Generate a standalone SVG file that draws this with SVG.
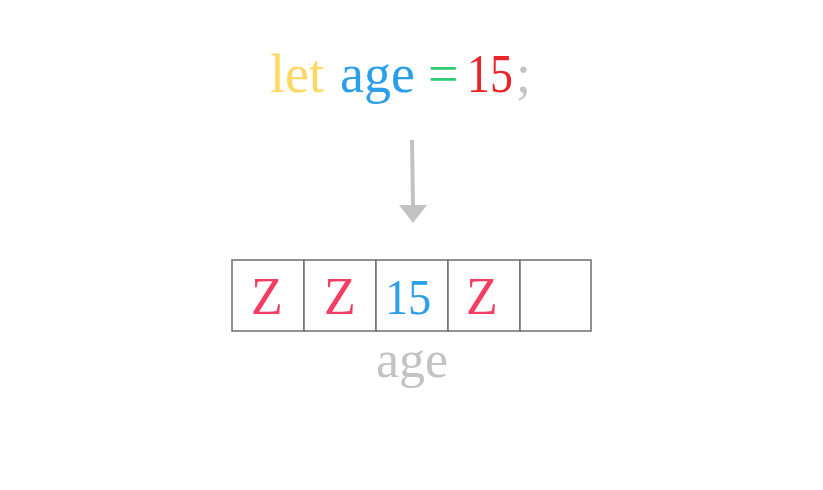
<svg xmlns="http://www.w3.org/2000/svg" width="823" height="490" viewBox="0 0 823 490">
<style>
text{font-family:"Liberation Serif","DejaVu Serif",serif;}
.code{font-size:54px;}
.cell{fill:#ffffff;stroke:#6f6f6f;stroke-width:1.5;}
.z{font-size:52px;fill:#f43d62;text-anchor:middle;}
.num{font-size:50px;fill:#2d9ee8;text-anchor:middle;}
.lbl{font-size:52px;fill:#c3c3c3;text-anchor:middle;}
</style>
<rect width="823" height="490" fill="#ffffff"/>
<g id="code">
<text class="code" x="270" y="92" fill="#fdd963">let</text>
<text class="code" x="340" y="92" fill="#2d9ee8">age</text>
<text class="code" x="428" y="92" fill="#2ecc71">=</text>
<text class="code" transform="translate(467,92) scale(0.85,1)" fill="#e8262a">15</text>
<text class="code" x="516" y="92" fill="#c3c3c3">;</text>
</g>
<g id="connectors">
<line x1="412" y1="140" x2="413" y2="206" stroke="#c3c3c3" stroke-width="4"/>
<polygon points="399,205 427,205 413,223" fill="#c3c3c3"/>
</g>
<g id="memory">
<g id="cell1"><rect class="cell" x="232" y="260" width="72" height="71"/><text class="z" x="267" y="314">Z</text></g>
<g id="cell2"><rect class="cell" x="304" y="260" width="72" height="71"/><text class="z" x="340" y="314">Z</text></g>
<g id="cell3"><rect class="cell" x="376" y="260" width="72" height="71"/><text class="num" transform="translate(408,314) scale(0.92,1)">15</text></g>
<g id="cell4"><rect class="cell" x="448" y="260" width="72" height="71"/><text class="z" x="482" y="314">Z</text></g>
<g id="cell5"><rect class="cell" x="520" y="260" width="71" height="71"/></g>
</g>
<g id="label">
<text class="lbl" x="412" y="377">age</text>
</g>
</svg>
